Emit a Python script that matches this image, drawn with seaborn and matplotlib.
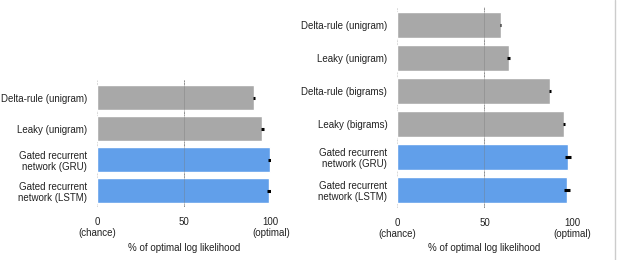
import matplotlib
matplotlib.use("Agg")
import matplotlib.pyplot as plt
import seaborn as sns
import pandas as pd
from matplotlib.lines import Line2D

# Dados
modelos_esq = ["Delta-rule (unigram)", "Leaky (unigram)",
               "Gated recurrent\nnetwork (GRU)", "Gated recurrent\nnetwork (LSTM)"]
valores_esq = [90.2, 95.0, 99.4, 99.0]
erros_esq = [0.4, 0.8, 1.0, 1.0]
tipo_esq = ["simples", "simples", "rnn", "rnn"]

modelos_dir = ["Delta-rule (unigram)", "Leaky (unigram)", "Delta-rule (bigrams)",
               "Leaky (bigrams)", "Gated recurrent\nnetwork (GRU)",
               "Gated recurrent\nnetwork (LSTM)"]
valores_dir = [59.2, 63.8, 87.6, 95.4, 97.7, 97.2]
erros_dir = [0.5, 1.0, 0.5, 0.5, 1.5, 1.6]
tipo_dir = ["simples", "simples", "simples", "simples", "rnn", "rnn"]

ticks = [0, 50, 100]
tick_labels = ["0\n(chance)", "50", "100\n(optimal)"]

cores = {"simples": "#a8a8a8", "rnn": "#619fea"}

sns.set_theme(style="white")
plt.rcParams['font.family'] = ['Liberation Sans', 'DejaVu Sans']

fig = plt.figure(figsize=(6.17, 2.6), dpi=100)
ax_esq = fig.add_axes([0.157, 0.2038, 0.282, 0.488])
ax_dir = fig.add_axes([0.6434, 0.2, 0.2836, 0.7746])


def desenha(ax, modelos, valores, erros, tipo, ylim):
    df = pd.DataFrame({"modelo": modelos, "valor": valores, "tipo": tipo})
    for x, c in zip(ticks, ["#d8d8d8", "#9a9a9a", "#d8d8d8"]):
        ax.axvline(x, color=c, lw=0.7, ls=(0, (2, 1)), zorder=0)
    sns.barplot(data=df, y="modelo", x="valor", hue="tipo", palette=cores,
                width=0.79, dodge=False, legend=False, saturation=1, ax=ax, zorder=2)
    ax.errorbar(valores, range(len(modelos)), xerr=erros, fmt="none",
                ecolor="black", elinewidth=2.2, capsize=0, zorder=3)
    # linha de 50 por cima das barras
    ax.axvline(50, color="#777777", lw=0.5, alpha=0.5, zorder=2.5)
    ax.set_xlim(0, 100)
    ax.set_ylim(*ylim)
    ax.set_xticks(ticks)
    ax.set_xticklabels(tick_labels, fontsize=7, color="#222222")
    ax.tick_params(axis="x", length=0, pad=7)
    ax.tick_params(axis="y", length=0, pad=7, labelsize=7, labelcolor="#222222")
    for t in ax.get_yticklabels():
        t.set_multialignment("right")
    ax.set_ylabel("")
    ax.set_xlabel("% of optimal log likelihood", fontsize=7, color="#222222", labelpad=3)
    for s in ax.spines.values():
        s.set_visible(False)


desenha(ax_esq, modelos_esq, valores_esq, erros_esq, tipo_esq, (3.53, -0.56))
desenha(ax_dir, modelos_dir, valores_dir, erros_dir, tipo_dir, (5.56, -0.56))

# borda direita clara
fig.add_artist(Line2D([0.996, 0.996], [0, 1], transform=fig.transFigure,
                      color="#cccccc", lw=1))

fig.savefig("out.png", dpi=100)
